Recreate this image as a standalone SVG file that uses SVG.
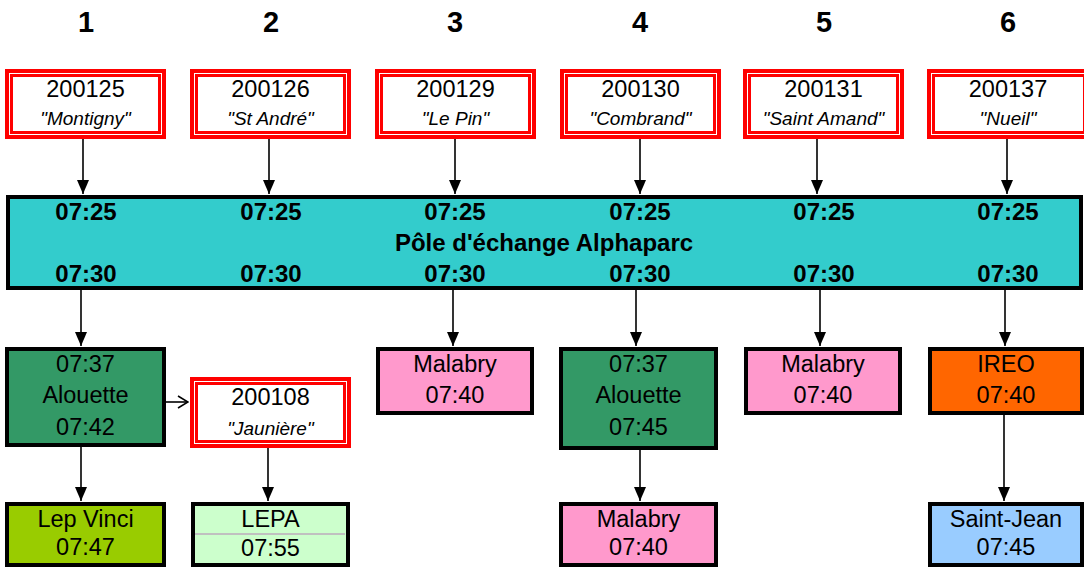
<svg xmlns="http://www.w3.org/2000/svg" width="1084" height="568" viewBox="0 0 1084 568">
<defs>
<style>
.hdr{font-family:"Liberation Sans",Arial,sans-serif;font-weight:bold;font-size:29px;text-anchor:middle;fill:#000}
.t{font-family:"Liberation Sans",Arial,sans-serif;font-size:23.5px;text-anchor:middle;fill:#000}
.it{font-family:"Liberation Sans",Arial,sans-serif;font-size:19px;font-style:italic;text-anchor:middle;fill:#000}
.b{font-family:"Liberation Sans",Arial,sans-serif;font-size:24px;font-weight:bold;text-anchor:middle;fill:#000}
.ro{fill:#fff;stroke:#f00;stroke-width:4}
.ri{fill:none;stroke:#f00;stroke-width:3}
.bx{stroke:#000;stroke-width:4}
.c{stroke:#000;stroke-width:1.6;fill:none}
</style>
<marker id="ah" viewBox="0 0 14 12" refX="14" refY="6" markerWidth="14" markerHeight="12" markerUnits="userSpaceOnUse" orient="auto">
<path d="M0,0 L14,6 L0,12 z" fill="#000"/>
</marker>
<marker id="oh" viewBox="0 0 12 14" refX="11" refY="7" markerWidth="12" markerHeight="14" markerUnits="userSpaceOnUse" orient="auto">
<path d="M1,1 L11,7 L1,13" fill="none" stroke="#000" stroke-width="1.6"/>
</marker>
</defs>
<rect width="1084" height="568" fill="#fff"/>

<g id="headers">
<text class="hdr" x="86" y="32">1</text>
<text class="hdr" x="271" y="32">2</text>
<text class="hdr" x="455" y="32">3</text>
<text class="hdr" x="640" y="32">4</text>
<text class="hdr" x="824" y="32">5</text>
<text class="hdr" x="1008" y="32">6</text>
</g>

<g id="connectors">
<line class="c" x1="83" y1="139" x2="83" y2="194" marker-end="url(#ah)"/>
<line class="c" x1="269" y1="139" x2="269" y2="194" marker-end="url(#ah)"/>
<line class="c" x1="455" y1="139" x2="455" y2="194" marker-end="url(#ah)"/>
<line class="c" x1="640" y1="139" x2="640" y2="194" marker-end="url(#ah)"/>
<line class="c" x1="817" y1="139" x2="817" y2="194" marker-end="url(#ah)"/>
<line class="c" x1="1007" y1="139" x2="1007" y2="194" marker-end="url(#ah)"/>
<line class="c" x1="81" y1="290" x2="81" y2="346" marker-end="url(#ah)"/>
<line class="c" x1="453" y1="290" x2="453" y2="346" marker-end="url(#ah)"/>
<line class="c" x1="636" y1="290" x2="636" y2="346" marker-end="url(#ah)"/>
<line class="c" x1="820" y1="290" x2="820" y2="346" marker-end="url(#ah)"/>
<line class="c" x1="1005" y1="290" x2="1005" y2="346" marker-end="url(#ah)"/>
<line class="c" x1="81" y1="447" x2="81" y2="501" marker-end="url(#ah)"/>
<line class="c" x1="268" y1="448" x2="268" y2="501" marker-end="url(#ah)"/>
<line class="c" x1="640" y1="450" x2="640" y2="501" marker-end="url(#ah)"/>
<line class="c" x1="1004" y1="415" x2="1004" y2="501" marker-end="url(#ah)"/>
<line class="c" x1="166" y1="402" x2="188" y2="402" marker-end="url(#oh)"/>
</g>

<g id="stop-200125">
<rect class="ro" x="7" y="71" width="157" height="66"/>
<rect class="ri" x="11.5" y="75.5" width="148" height="57"/>
<text class="t" x="85.5" y="97">200125</text>
<text class="it" x="85.5" y="125">"Montigny"</text>
</g>
<g id="stop-200126">
<rect class="ro" x="192" y="71" width="157" height="66"/>
<rect class="ri" x="196.5" y="75.5" width="148" height="57"/>
<text class="t" x="270.5" y="97">200126</text>
<text class="it" x="270.5" y="125">"St André"</text>
</g>
<g id="stop-200129">
<rect class="ro" x="377" y="71" width="157" height="66"/>
<rect class="ri" x="381.5" y="75.5" width="148" height="57"/>
<text class="t" x="455.5" y="97">200129</text>
<text class="it" x="455.5" y="125">"Le Pin"</text>
</g>
<g id="stop-200130">
<rect class="ro" x="562" y="71" width="157" height="66"/>
<rect class="ri" x="566.5" y="75.5" width="148" height="57"/>
<text class="t" x="640.5" y="97">200130</text>
<text class="it" x="640.5" y="125">"Combrand"</text>
</g>
<g id="stop-200131">
<rect class="ro" x="745" y="71" width="157" height="66"/>
<rect class="ri" x="749.5" y="75.5" width="148" height="57"/>
<text class="t" x="823.5" y="97">200131</text>
<text class="it" x="823.5" y="125">"Saint Amand"</text>
</g>
<g id="stop-200137">
<rect class="ro" x="929" y="71" width="160" height="66"/>
<rect class="ri" x="933.5" y="75.5" width="151" height="57"/>
<text class="t" x="1008" y="97">200137</text>
<text class="it" x="1008" y="125">"Nueil"</text>
</g>

<g id="hub">
<rect class="bx" x="8" y="197" width="1073" height="91" fill="#33CCCC"/>
<text class="b" x="86" y="220">07:25</text>
<text class="b" x="271" y="220">07:25</text>
<text class="b" x="455" y="220">07:25</text>
<text class="b" x="640" y="220">07:25</text>
<text class="b" x="824" y="220">07:25</text>
<text class="b" x="1008" y="220">07:25</text>
<text class="b" x="544" y="251">Pôle d'échange Alphaparc</text>
<text class="b" x="86" y="282">07:30</text>
<text class="b" x="271" y="282">07:30</text>
<text class="b" x="455" y="282">07:30</text>
<text class="b" x="640" y="282">07:30</text>
<text class="b" x="824" y="282">07:30</text>
<text class="b" x="1008" y="282">07:30</text>
</g>

<g id="alouette-1">
<rect class="bx" x="7" y="349" width="157" height="96" fill="#339966"/>
<text class="t" x="85.5" y="372">07:37</text>
<text class="t" x="85.5" y="403">Alouette</text>
<text class="t" x="85.5" y="435">07:42</text>
</g>
<g id="stop-200108">
<rect class="ro" x="192" y="379" width="157" height="67"/>
<rect class="ri" x="196.5" y="383.5" width="148" height="58"/>
<text class="t" x="270.5" y="405">200108</text>
<text class="it" x="270.5" y="435">"Jaunière"</text>
</g>
<g id="lepvinci">
<rect class="bx" x="7" y="504" width="157" height="61" fill="#99CC00"/>
<text class="t" x="85.5" y="527">Lep Vinci</text>
<text class="t" x="85.5" y="555">07:47</text>
</g>
<g id="lepa">
<rect class="bx" x="193" y="504" width="155" height="61" fill="#CCFFCC"/>
<line x1="195" y1="534" x2="345" y2="534" stroke="#C0C0C0" stroke-width="2"/>
<text class="t" x="270.5" y="527">LEPA</text>
<text class="t" x="270.5" y="556">07:55</text>
</g>
<g id="malabry-3">
<rect class="bx" x="378" y="349" width="154" height="64" fill="#FF99CC"/>
<text class="t" x="455" y="372">Malabry</text>
<text class="t" x="455" y="403">07:40</text>
</g>
<g id="alouette-4">
<rect class="bx" x="561" y="349" width="155" height="99" fill="#339966"/>
<text class="t" x="638.5" y="372">07:37</text>
<text class="t" x="638.5" y="403">Alouette</text>
<text class="t" x="638.5" y="435">07:45</text>
</g>
<g id="malabry-4">
<rect class="bx" x="561" y="504" width="155" height="61" fill="#FF99CC"/>
<text class="t" x="638.5" y="527">Malabry</text>
<text class="t" x="638.5" y="555">07:40</text>
</g>
<g id="malabry-5">
<rect class="bx" x="746" y="349" width="154" height="64" fill="#FF99CC"/>
<text class="t" x="823" y="372">Malabry</text>
<text class="t" x="823" y="403">07:40</text>
</g>
<g id="ireo">
<rect class="bx" x="930" y="349" width="152" height="64" fill="#FF6600"/>
<text class="t" x="1006" y="372">IREO</text>
<text class="t" x="1006" y="403">07:40</text>
</g>
<g id="saintjean">
<rect class="bx" x="930" y="504" width="152" height="61" fill="#99CCFF"/>
<text class="t" x="1006" y="527">Saint-Jean</text>
<text class="t" x="1006" y="555">07:45</text>
</g>
</svg>
